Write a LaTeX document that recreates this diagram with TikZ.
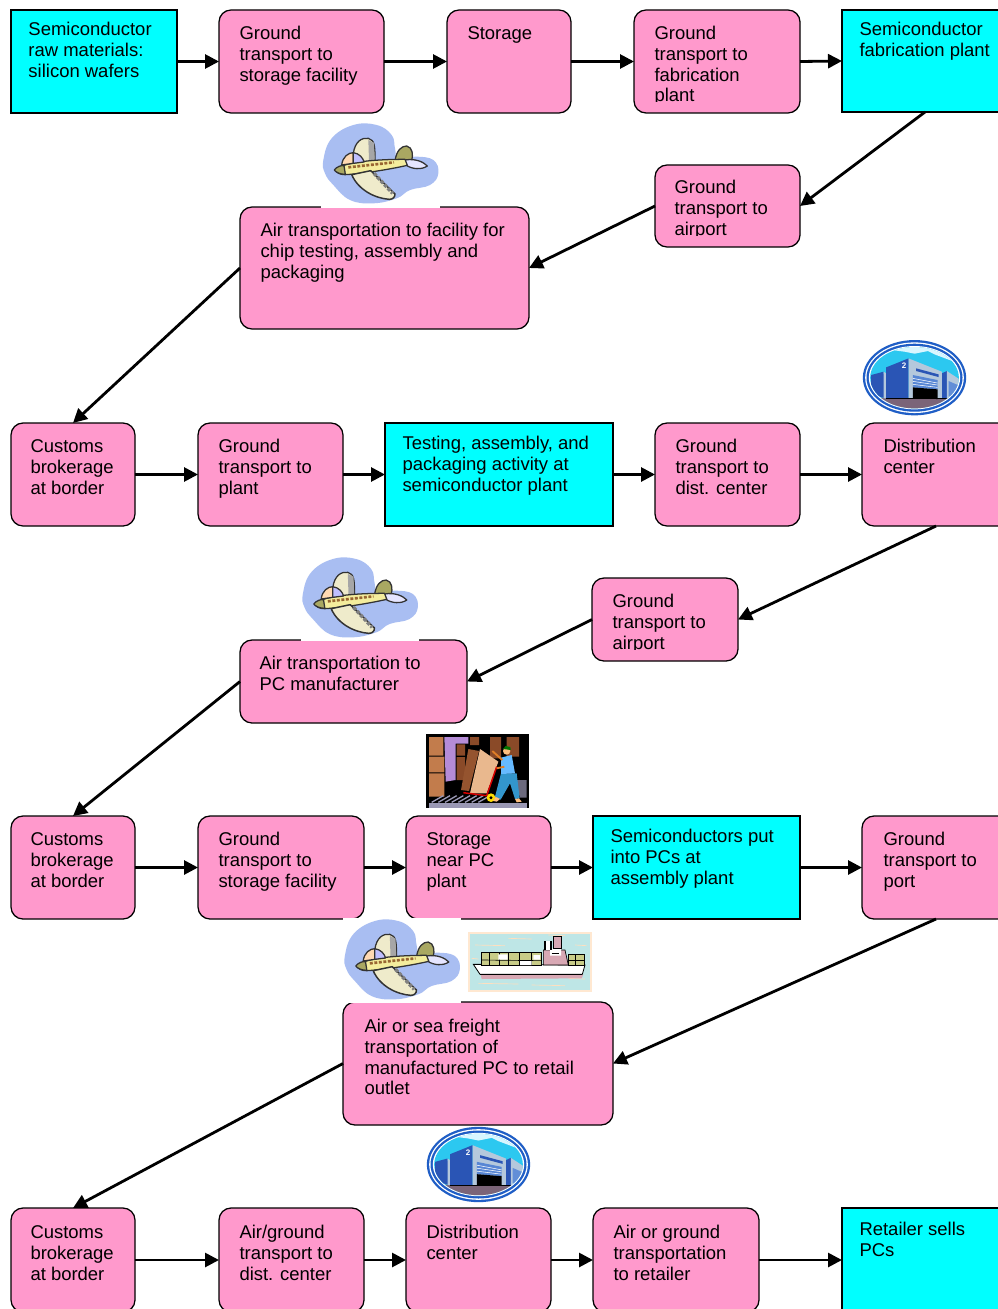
\documentclass[tikz,border=0pt]{standalone}
\usepackage{fontspec}
\setmainfont{Liberation Sans}
\usetikzlibrary{arrows.meta}
\definecolor{pinkbox}{HTML}{FF99CC}
\definecolor{cyanbox}{HTML}{00FFFF}
\definecolor{blob}{HTML}{A9BEF2}
\definecolor{cream}{HTML}{EFEBCB}
\definecolor{olive}{HTML}{A9A862}
\definecolor{wblue}{HTML}{1F5EC6}
\definecolor{wdark}{HTML}{2A55B5}
\definecolor{wface}{HTML}{B4C8DC}
\definecolor{wsky}{HTML}{2CC8F0}
\definecolor{wcloud}{HTML}{D8F6FF}
\definecolor{wground}{HTML}{7B6478}
\definecolor{brownA}{HTML}{C27C4C}
\definecolor{brownB}{HTML}{8A4A28}
\definecolor{floorgrey}{HTML}{9A98B4}
\definecolor{shipsea}{HTML}{BEE6E6}
\definecolor{shippink}{HTML}{D8A8B4}
\definecolor{shipload}{HTML}{C8CC88}
\tikzset{
  base box/.style={draw=black,line width=.95pt,inner sep=0pt,outer sep=0pt,anchor=north west},
  pink/.style={base box,fill=pinkbox,rounded corners=9pt},
  aqua/.style={base box,fill=cyanbox},
  label text/.style={inner sep=0pt,outer sep=0pt,anchor=north west,align=left,font=\fontsize{13.85pt}{15.6pt}\selectfont},
  link/.style={draw=black,line width=2.1pt,-{Triangle[length=10.5pt,width=10.5pt]}},
  ink/.style={draw=black!80,line width=.95pt,line join=round},
  planeart/.pic={
    \begin{scope}[x=.25pt,y=-.25pt]
    \fill[blob] plot[smooth cycle,tension=.7] coordinates {(70,150)(95,85)(160,45)(230,45)(275,75)(285,115)(295,148)(345,140)(400,150)(415,190)(390,225)(330,240)(290,265)(220,280)(150,270)(100,225)(75,190)};
    \filldraw[ink,fill=cream] (160,130) .. controls (165,95) and (185,82) .. (205,85) .. controls (225,90) and (225,110) .. (225,155) -- (165,160) -- cycle;
    \fill[black!35] (205,90) -- (222,98) -- (224,150) -- (207,152) -- cycle;
    \filldraw[ink,fill=olive] (285,152) .. controls (290,120) and (305,108) .. (320,108) .. controls (338,112) and (340,135) .. (335,152) -- cycle;
    \filldraw[ink,fill=white!90!blue] (315,150) .. controls (345,145) and (370,155) .. (382,168) .. controls (365,180) and (335,178) .. (318,165) -- cycle;
    \filldraw[ink,fill=yellow!25!cream] (105,180) .. controls (125,160) and (200,148) .. (315,148) -- (322,166) .. controls (260,180) and (180,192) .. (135,194) .. controls (120,194) and (110,188) .. (105,180) -- cycle;
    \filldraw[ink,fill=olive] (103,180) .. controls (110,170) and (125,165) .. (132,167) -- (136,193) .. controls (120,193) and (108,187) .. (103,180) -- cycle;
    \filldraw[ink,fill=orange!30] (125,165) .. controls (128,140) and (145,128) .. (160,128) -- (160,160) -- cycle;
    \filldraw[ink,fill=blue!25!white] (160,128) .. controls (178,130) and (190,145) .. (192,156) -- (160,160) -- cycle;
    \draw[brown!80!black,line width=2pt,dash pattern=on 2.2pt off 1.2pt] (145,172) -- (282,157);
    \filldraw[ink,line width=1.1pt,fill=cream] (155,194) -- (212,182) -- (285,252) .. controls (285,262) and (278,268) .. (268,268) .. controls (225,265) and (175,240) .. (155,194) -- cycle;
    \draw[black!50,line width=2.6pt,dash pattern=on 2.6pt off 1.2pt] (222,190) -- (278,250);
    \end{scope}
  },
  warehouseart/.pic={
    \begin{scope}[x=.25pt,y=-.25pt]
    \fill[wblue] (0,0) ellipse [x radius=155,y radius=113];
    \fill[white] (0,0) ellipse [x radius=148,y radius=106];
    \fill[wblue] (0,0) ellipse [x radius=144,y radius=102];
    \fill[white] (0,0) ellipse [x radius=137,y radius=95];
    \begin{scope}
      \clip (0,0) ellipse [x radius=133,y radius=92];
      \fill[wsky] (-140,-100) rectangle (140,100);
      \fill[wcloud] (-140,-60) -- (-90,-72) -- (-60,-82) -- (-30,-78) -- (0,-72) -- (40,-80) -- (60,-70) -- (100,-55) -- (140,-40) -- (140,-100) -- (-140,-100) -- cycle;
      \fill[wcloud] (-140,60) rectangle (140,100);
      \fill[wground] (-100,60) -- (100,60) -- (75,95) -- (-70,95) -- cycle;
      \fill[wdark] (-130,-8) -- (-93,-18) -- (-85,62) -- (-130,50) -- cycle;
      \fill[wface] (-93,-18) -- (-83,-12) -- (-83,62) -- (-93,62) -- cycle;
      \fill[wdark] (82,-13) -- (97,-20) -- (97,62) -- (82,62) -- cycle;
      \fill[wface] (97,-20) -- (135,5) -- (135,50) -- (97,62) -- cycle;
      \fill[wblue!70!white] (102,10) -- (130,22) -- (130,48) -- (102,56) -- cycle;
      \fill[wdark] (-85,-31) -- (-18,-58) -- (-18,62) -- (-85,62) -- cycle;
      \fill[wface] (-18,-58) -- (82,-18) -- (82,62) -- (-18,62) -- cycle;
      \fill[wblue!75!white] (-5,-8) -- (69,7) -- (69,35) -- (-5,29) -- cycle;
      \draw[white,line width=.4pt] (-5,2) -- (69,16) (-5,11) -- (69,22) (-5,20) -- (69,29);
      \fill[black] (-5,29) -- (69,35) -- (69,64) -- (-5,62) -- cycle;
      \fill[wdark] (5,-28) -- (72,-10) -- (72,-2) -- (5,-20) -- cycle;
      \draw[black,line width=.7pt] (-85,62) -- (97,62);
      \node[text=white,font=\bfseries\fontsize{6pt}{6pt}\selectfont] (wn) at (-31,-35) {2};
    \end{scope}
    \end{scope}
  },
  moverart/.pic={
    \begin{scope}[x=.25pt,y=-.25pt]
    \fill[black] (33,28) rectangle (342,250);
    \fill[brownA] (42,36) rectangle (85,92) (42,95) rectangle (88,142) (42,145) rectangle (88,215);
    \fill[blue!30!violet!45!white] (88,36) -- (160,36) -- (160,56) -- (122,56) -- (122,165) -- (92,170) -- cycle;
    \fill[brownB] (125,58) rectangle (150,92) (125,96) rectangle (150,165) (165,36) rectangle (192,60) (225,36) rectangle (258,100) (275,36) rectangle (312,95);
    \fill[floorgrey!70!black] (300,165) -- (335,165) -- (335,218) -- (315,218) -- cycle;
    \fill[floorgrey] (42,235) rectangle (335,248);
    \foreach \i in {0,...,7} \draw[floorgrey,line width=1pt] (50+\i*20,232) -- (85+\i*20,212);
    \fill[brownB!80!brownA] (160,72) -- (192,78) -- (162,198) -- (138,195) -- cycle;
    \fill[orange!35!brownA!55!white] (195,72) -- (250,110) -- (215,205) -- (165,205) -- cycle;
    \draw[red!85!black,line width=1.1pt] (145,203) -- (215,212) -- (245,125);
    \fill[yellow!80!orange] (228,218) circle (13);
    \fill[black] (228,218) circle (5);
    \fill[blue!35!cyan!60!gray] (258,145) -- (305,145) -- (314,220) -- (300,222) -- (285,175) -- (257,224) -- (240,215) -- cycle;
    \fill[orange!50!white] (242,215) -- (255,222) -- (245,230) -- (235,228) -- cycle (300,222) -- (312,220) -- (320,230) -- (305,232) -- cycle;
    \fill[blue!45!cyan!60!white] (258,98) -- (290,90) -- (300,145) -- (258,147) -- cycle;
    \draw[orange!50!brownA,line width=1.4pt] (232,78) -- (262,105) (245,130) -- (268,125);
    \fill[orange!50!white] (275,78) circle (11);
    \fill[green!45!black] (264,72) -- (272,63) -- (286,66) -- (287,75) -- cycle;
    \end{scope}
  },
  shipart/.pic={
    \begin{scope}[x=.25pt,y=-.25pt]
    \fill[orange!18!white] (400,50) rectangle (770,230);
    \fill[shipsea] (406,56) rectangle (764,224);
    \foreach \a/\b/\c in {420/90/90,520/70/70,640/60/50,430/205/120,590/210/100,700/190/50,410/130/20,720/90/35}
      \draw[white!75!orange,line width=.5pt] (\a,\b) -- ++(\c,2);
    \fill[shippink] (437,178) -- (745,178) -- (740,190) -- (440,192) -- cycle;
    \filldraw[black,fill=white,line width=.6pt] (415,148) -- (750,150) -- (742,178) -- (435,178) -- cycle;
    \draw[black,line width=1pt] (435,178) -- (742,178);
    \filldraw[black,fill=shipload,line width=.5pt] (440,112) rectangle (620,150);
    \foreach \x in {462,492,520,552,590} \draw[black,line width=.5pt] (\x,112) -- (\x,150);
    \draw[black,line width=.5pt] (440,135) -- (620,137);
    \fill[white] (490,118) rectangle (518,134) (555,138) rectangle (590,150) (595,120) rectangle (615,134);
    \filldraw[black,fill=shippink,line width=.5pt] (625,105) -- (690,105) -- (700,150) -- (625,150) -- cycle;
    \fill[white] (630,78) rectangle (648,105) (645,100) rectangle (678,122);
    \filldraw[black,fill=shippink,line width=.5pt] (655,65) rectangle (678,100);
    \draw[black,line width=.8pt] (630,78) -- (630,105) (648,78) -- (648,105) (650,115) -- (672,115);
    \filldraw[black,fill=shipload,line width=.5pt] (700,118) rectangle (748,150);
    \draw[black,line width=.5pt] (722,118) -- (722,150) (700,135) -- (748,135);
    \end{scope}
  }
}
\newcommand\bx[6]{%
  \pgfmathsetmacro\bw{(#5-#3)*.75}\pgfmathsetmacro\bh{(#6-#4)*.75}%
  \node[#2,minimum width=\bw pt,minimum height=\bh pt] (#1) at (#3,#4) {};}
% text: name, x, first-line baseline y, text
\newcommand\tx[4]{\node[label text] (#1) at (#2-.5,#3-14) {\rule{0pt}{10.5pt}#4};}
\begin{document}
\begin{tikzpicture}[x=.75pt,y=-.75pt]
\useasboundingbox (0,0) rectangle (998,1309);
\clip (0,0) rectangle (998,1309);
\fill[white] (0,0) rectangle (998,1309);
% row 1
\bx{a1}{aqua}{11}{10}{177}{113}
\bx{a2}{pink}{219}{10}{384}{113}
\bx{a3}{pink}{447}{10}{571}{113}
\bx{a4}{pink}{634}{10}{800}{113}
\bx{a5}{aqua}{842}{10}{1008}{112}
\bx{b1}{pink}{655}{165}{800}{247}
\bx{b2}{pink}{240}{207}{529}{329}
% row 2
\bx{c1}{pink}{11}{423}{135}{526}
\bx{c2}{pink}{198}{423}{343}{526}
\bx{c3}{aqua}{385}{423}{613}{526}
\bx{c4}{pink}{655}{423}{800}{526}
\bx{c5}{pink}{862}{423}{1010}{526}
\bx{d1}{pink}{592}{578}{738}{661}
\bx{d2}{pink}{240}{640}{467}{723}
% row 3
\bx{e1}{pink}{11}{816}{135}{919}
\bx{e2}{pink}{198}{816}{364}{919}
\bx{e3}{pink}{406}{816}{551}{919}
\bx{e4}{aqua}{593}{816}{800}{919}
\bx{e5}{pink}{862}{816}{1010}{919}
\bx{f1}{pink}{343}{1002}{613}{1125}
% row 4
\bx{g1}{pink}{11}{1208}{135}{1312}
\bx{g2}{pink}{219}{1208}{364}{1312}
\bx{g3}{pink}{406}{1208}{551}{1312}
\bx{g4}{pink}{593}{1208}{759}{1312}
\bx{g5}{aqua}{842}{1208}{1008}{1312}
% texts
\tx{ta1}{29}{35.5}{Semiconductor\\raw materials:\\silicon wafers}
\tx{ta2}{240}{39.5}{Ground\\transport to\\storage facility}
\tx{ta3}{468}{39.5}{Storage}
\begin{scope}\clip (634,10) rectangle (800,102);
\tx{ta4}{655}{39.5}{Ground\\transport to\\fabrication\\plant}
\end{scope}
\tx{ta5}{860}{35.5}{Semiconductor\\fabrication plant}
\begin{scope}\clip (655,165) rectangle (800,235.5);
\tx{tb1}{675}{193.5}{Ground\\transport to\\airport}
\end{scope}
\tx{tb2}{261}{236.5}{Air transportation to facility for\\chip testing, assembly and\\packaging}
\tx{tc1}{31}{452.5}{Customs\\brokerage\\at border}
\tx{tc2}{219}{452.5}{Ground\\transport to\\plant}
\tx{tc3}{403}{449.5}{Testing, assembly, and\\packaging activity at\\semiconductor plant}
\tx{tc4}{676}{452.5}{Ground\\transport to\\dist. center}
\tx{tc5}{884}{452.5}{Distribution\\center}
\begin{scope}\clip (592,578) rectangle (738,649.5);
\tx{td1}{613}{607.5}{Ground\\transport to\\airport}
\end{scope}
\tx{td2}{260}{669.5}{Air transportation to\\PC manufacturer}
\tx{te1}{31}{845.5}{Customs\\brokerage\\at border}
\tx{te2}{219}{845.5}{Ground\\transport to\\storage facility}
\tx{te3}{427}{845.5}{Storage\\near PC\\plant}
\tx{te4}{611}{842.5}{Semiconductors put\\into PCs at\\assembly plant}
\tx{te5}{884}{845.5}{Ground\\transport to\\port}
\tx{tf1}{365}{1032.5}{Air or sea freight\\transportation of\\manufactured PC to retail\\outlet}
\tx{tg1}{31}{1238.5}{Customs\\brokerage\\at border}
\tx{tg2}{240}{1238.5}{Air/ground\\transport to\\dist. center}
\tx{tg3}{427}{1238.5}{Distribution\\center}
\tx{tg4}{614}{1238.5}{Air or ground\\transportation\\to retailer}
\tx{tg5}{860}{1235.5}{Retailer sells\\PCs}
% connectors
\draw[link] (a1.east) -- (a2.west);
\draw[link] (a2.east) -- (a3.west);
\draw[link] (a3.east) -- (a4.west);
\draw[link] (a4.east) -- (a5.west);
\draw[link] (a5.south) -- (b1.east);
\draw[link] (b1.west) -- (b2.east);
\draw[link] (b2.west) -- (c1.north);
\draw[link] (c1.east) -- (c2.west);
\draw[link] (c2.east) -- (c3.west);
\draw[link] (c3.east) -- (c4.west);
\draw[link] (c4.east) -- (c5.west);
\draw[link] (c5.south) -- (d1.east);
\draw[link] (d1.west) -- (d2.east);
\draw[link] (d2.west) -- (e1.north);
\draw[link] (e1.east) -- (e2.west);
\draw[link] (e2.east) -- (e3.west);
\draw[link] (e3.east) -- (e4.west);
\draw[link] (e4.east) -- (e5.west);
\draw[link] (e5.south) -- (f1.east);
\draw[link] (f1.west) -- (g1.north);
\draw[link] (g1.east) -- (g2.west);
\draw[link] (g2.east) -- (g3.west);
\draw[link] (g3.east) -- (g4.west);
\draw[link] (g4.east) -- (g5.west);
% clip art
\fill[white] (321,122) rectangle (440,208);
\pic at (300,110) {planeart};
\fill[white] (301,556) rectangle (419,641);
\pic at (279.5,544) {planeart};
\fill[white] (343,918) rectangle (461,1003);
\pic at (321.5,906) {planeart};
\pic at (914.5,377.7) {warehouseart};
\pic at (478.5,1164.5) {warehouseart};
\pic at (415,725) {moverart};
\pic at (335,915) {shipart};
\end{tikzpicture}
\end{document}
